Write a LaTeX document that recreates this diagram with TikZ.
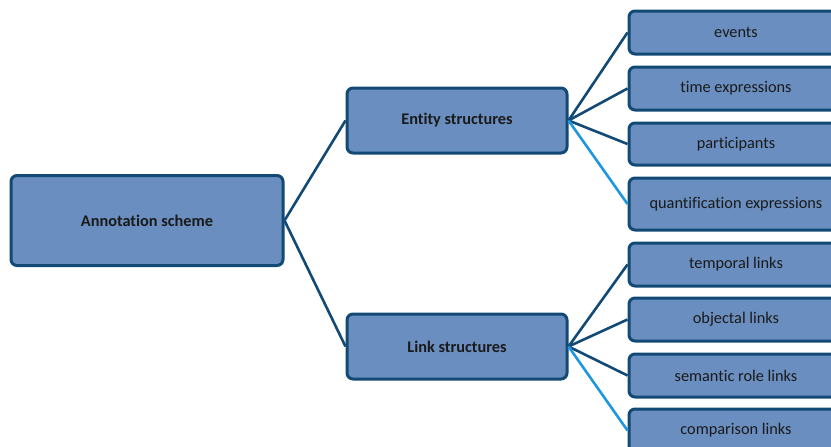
\documentclass[tikz,border=0pt]{standalone}
\usepackage{fontspec}
\setmainfont[Ligatures=NoCommon]{Carlito}
\definecolor{boxfill}{HTML}{6A8EBF}
\definecolor{boxedge}{HTML}{124A75}
\definecolor{darkline}{HTML}{124A75}
\definecolor{lightline}{HTML}{1E96E0}
\definecolor{txt}{HTML}{1A1A1A}
\begin{document}
\begin{tikzpicture}[x=1pt,y=-1pt,
  box/.style={draw=boxedge, line width=3pt, fill=boxfill, rounded corners=6pt,
    text=txt, font=\fontsize{16.3}{19}\selectfont, inner sep=0pt, anchor=center},
  bigbox/.style={box, font=\fontsize{16.3}{19}\selectfont\bfseries},
  conn/.style={draw=darkline, line width=2.6pt},
  connlight/.style={draw=lightline, line width=2.6pt}]
\useasboundingbox (0,0) rectangle (831,447);
\clip (0,0) rectangle (831,447);
\node[bigbox, minimum width=272pt, minimum height=90pt] (root) at (147,220.5) {Annotation scheme};
\node[bigbox, minimum width=220pt, minimum height=65pt] (ent) at (457,120.5) {Entity structures};
\node[bigbox, minimum width=220pt, minimum height=65pt] (lnk) at (457,346.5) {Link structures};
\node[box, minimum width=214pt, minimum height=43pt] (ev) at (736,32.5) {events};
\node[box, minimum width=214pt, minimum height=43pt] (te) at (736,88.5) {time expressions};
\node[box, minimum width=214pt, minimum height=42pt] (pa) at (736,144) {participants};
\node[box, minimum width=214pt, minimum height=52pt] (qe) at (736,204) {quantification expressions};
\node[box, minimum width=214pt, minimum height=43pt] (tl) at (736,264.5) {temporal links};
\node[box, minimum width=214pt, minimum height=43pt] (ol) at (736,319.5) {objectal links};
\node[box, minimum width=214pt, minimum height=43pt] (sl) at (736,375.5) {semantic role links};
\node[box, minimum width=214pt, minimum height=43pt] (cl) at (736,430.5) {comparison links};
\draw[conn] (root.east) -- (ent.west);
\draw[conn] (root.east) -- (lnk.west);
\draw[conn] (ent.east) -- (ev.west);
\draw[conn] (ent.east) -- (te.west);
\draw[conn] (ent.east) -- (pa.west);
\draw[connlight] (ent.east) -- (qe.west);
\draw[conn] (lnk.east) -- (tl.west);
\draw[conn] (lnk.east) -- (ol.west);
\draw[conn] (lnk.east) -- (sl.west);
\draw[connlight] (lnk.east) -- (cl.west);
\end{tikzpicture}
\end{document}
